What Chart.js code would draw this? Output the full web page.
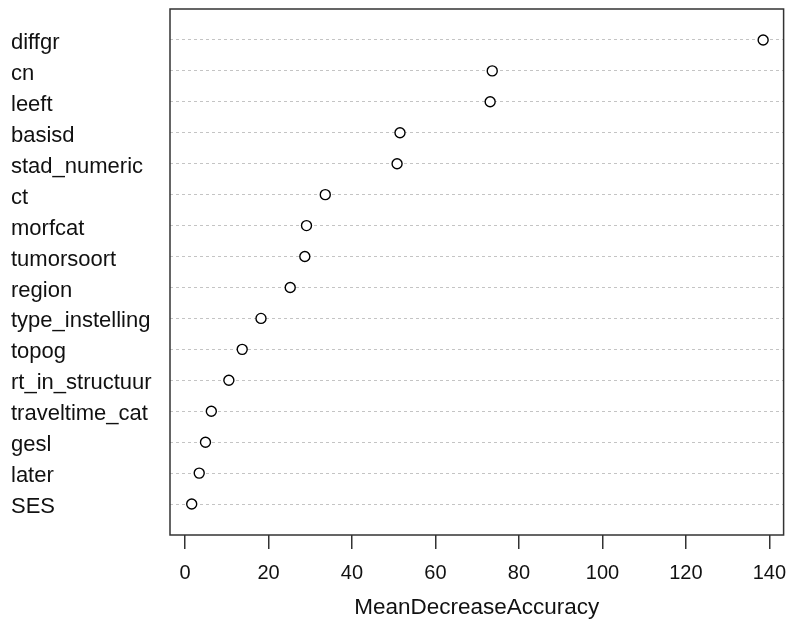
<!DOCTYPE html>
<html>
<head>
<meta charset="utf-8">
<script src="https://cdn.jsdelivr.net/npm/chart.js@4/dist/chart.umd.min.js"></script>
<style>
  html, body { margin: 0; padding: 0; background: #fff; }
  #wrap { width: 790px; height: 620px; }
</style>
</head>
<body>
<div id="wrap"><canvas id="impChart" width="790" height="620"></canvas></div>
<script>
// variables, top to bottom as in the plot
const variables = ['diffgr', 'cn', 'leeft', 'basisd', 'stad_numeric', 'ct', 'morfcat', 'tumorsoort',
    'region', 'type_instelling', 'topog', 'rt_in_structuur', 'traveltime_cat', 'gesl', 'later', 'SES'];
const meanDecreaseAccuracy = [138.5, 73.6, 73.1, 51.5, 50.8, 33.6, 29.1, 28.7,
    25.2, 18.2, 13.7, 10.5, 6.3, 4.9, 3.4, 1.6];
const xTicks = [0, 20, 40, 60, 80, 100, 120, 140];

const font = "'Liberation Sans', Arial, sans-serif";
const n = variables.length;

// dot chart: first variable on top (y = n), last at y = 1
const points = meanDecreaseAccuracy.map((v, i) => ({ x: v, y: n - i }));

// no extra room for overflowing tick labels, the layout padding does that
function noPadding(axis) {
    axis.paddingLeft = 0;
    axis.paddingRight = 0;
    axis.paddingTop = 0;
    axis.paddingBottom = 0;
}

// plain box round the plot area, like R's dotchart
const frame = {
    id: 'frame',
    afterDatasetsDraw(chart) {
        const a = chart.chartArea;
        const ctx = chart.ctx;
        ctx.save();
        ctx.strokeStyle = '#333';
        ctx.lineWidth = 1.5;
        ctx.strokeRect(a.left, a.top, a.right - a.left, a.bottom - a.top);
        ctx.restore();
    }
};

const ctx = document.getElementById('impChart').getContext('2d');
new Chart(ctx, {
    type: 'scatter',
    data: {
        datasets: [{
            label: 'MeanDecreaseAccuracy',
            data: points,
            pointStyle: 'circle',
            pointRadius: 5,
            pointHoverRadius: 5,
            pointBorderWidth: 1.4,
            borderColor: '#000',
            backgroundColor: '#fff',
            showLine: false
        }]
    },
    options: {
        responsive: false,
        animation: false,
        layout: { padding: { left: 11, top: 9, right: 4, bottom: 0 } },
        plugins: {
            legend: { display: false },
            tooltip: { enabled: false }
        },
        scales: {
            x: {
                type: 'linear',
                min: -3.6,
                max: 143.4,
                afterBuildTicks: axis => { axis.ticks = xTicks.map(v => ({ value: v })); },
                afterFit: axis => { axis.height = 85; noPadding(axis); },
                grid: {
                    drawOnChartArea: false,
                    drawTicks: true,
                    tickLength: 14,
                    tickColor: '#333',
                    lineWidth: 1.5
                },
                border: { display: false },
                ticks: {
                    color: '#111',
                    padding: 12,
                    maxRotation: 0,
                    font: { family: font, size: 20 }
                },
                title: {
                    display: true,
                    text: 'MeanDecreaseAccuracy',
                    color: '#111',
                    padding: { top: 0, bottom: 0 },
                    font: { family: font, size: 22.5, lineHeight: 1.1 }
                }
            },
            y: {
                type: 'linear',
                min: 0,
                max: n + 1,
                afterBuildTicks: axis => {
                    axis.ticks = variables.map((v, i) => ({ value: n - i }));
                },
                afterFit: axis => { axis.width = 159; noPadding(axis); },
                grid: {
                    color: '#c4c4c4',
                    lineWidth: 1,
                    drawTicks: false
                },
                border: { display: false, dash: [3, 3] },
                ticks: {
                    crossAlign: 'far',
                    labelOffset: 3,
                    color: '#111',
                    font: { family: font, size: 22 },
                    callback: value => variables[n - value]
                }
            }
        }
    },
    plugins: [frame]
});
</script>
</body>
</html>
